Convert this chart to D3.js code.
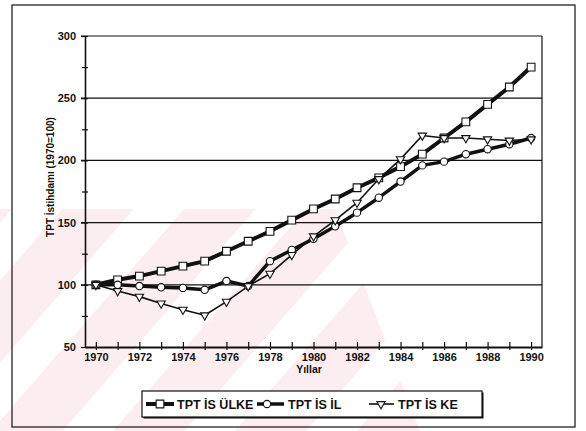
<!DOCTYPE html>
<html>
<head>
<meta charset="utf-8">
<script src="https://cdn.jsdelivr.net/npm/d3@7"></script>
<style>
  html, body { margin: 0; padding: 0; background: #fff; }
  svg { display: block; }
  text { font-family: "Liberation Sans", Arial, sans-serif; font-weight: bold; fill: #111; }
</style>
</head>
<body>
<div id="chart"></div>
<script>
// Employment index per year (1970 = 100)
const years = d3.range(1970, 1991);
const ulke = [100, 104, 107, 111, 115, 119, 127, 135, 143, 152, 161, 169, 178, 186, 195, 205, 218, 231, 245, 259, 275];
const il   = [100, 100, 99, 98, 97.5, 96, 103, 99, 119, 128, 137, 147, 158, 170, 183, 196, 199, 205, 209, 213, 218];
const ke   = [100, 95, 90.5, 85, 80, 75.5, 86.5, 99, 109, 124, 139, 152, 166, 185, 201, 220, 218, 218, 217, 216, 217];
const yTicks = [50, 100, 150, 200, 250, 300];
const xLabelYears = d3.range(1970, 1991, 2);
const seriesNames = ["TPT İS ÜLKE", "TPT İS İL", "TPT İS KE"];

const W = 586, H = 431;
const svg = d3.select("#chart").append("svg").attr("width", W).attr("height", H);

// faint diagonal stripes in the lower left background
const defs = svg.append("defs");
const pat = defs.append("pattern")
  .attr("id", "stripes").attr("patternUnits", "userSpaceOnUse")
  .attr("width", 92).attr("height", 92)
  .attr("patternTransform", "rotate(41)");
pat.append("rect").attr("x", 0).attr("y", 0).attr("width", 54).attr("height", 92).attr("fill", "#fcedf0");
defs.append("clipPath").attr("id", "wmclip")
  .append("polygon").attr("points", "0,209 335,209 420,431 0,431");
svg.append("rect").attr("x", 0).attr("y", 0).attr("width", W).attr("height", H)
  .attr("fill", "url(#stripes)").attr("clip-path", "url(#wmclip)");

// outer frame
svg.append("rect").attr("x", 12).attr("y", 5).attr("width", 563).attr("height", 422)
  .attr("fill", "none").attr("stroke", "#111").attr("stroke-width", 1.2);

const plot = { left: 85, right: 542, top: 36, bottom: 347 };
const x = d3.scaleLinear().domain([1969.5, 1990.5]).range([plot.left, plot.right]);
const y = d3.scaleLinear().domain([50, 300]).range([plot.bottom, plot.top]);

// horizontal gridlines
svg.append("g").selectAll("line").data(yTicks.filter(v => v > 50)).join("line")
  .attr("x1", plot.left - 4).attr("x2", plot.right)
  .attr("y1", d => y(d)).attr("y2", d => y(d))
  .attr("stroke", "#111").attr("stroke-width", 1.2);

// right edge of the plot
svg.append("line").attr("x1", plot.right).attr("x2", plot.right)
  .attr("y1", plot.top).attr("y2", plot.bottom).attr("stroke", "#111").attr("stroke-width", 1.2);

const tickFont = sel => sel.style("font-size", "11px")
  .style("font-family", "'Liberation Sans', Arial, sans-serif").style("font-weight", "bold").attr("fill", "#111");

// y axis
const yAxis = d3.axisLeft(y).tickValues(d3.range(50, 301, 25))
  .tickSize(0).tickFormat(d => d % 50 === 0 ? d : "");
const gy = svg.append("g").attr("transform", `translate(${plot.left},0)`).call(yAxis);
gy.select(".domain").attr("stroke", "#111").attr("stroke-width", 1.6);
gy.selectAll(".tick line").remove();
gy.selectAll(".tick").append("line")
  .attr("x1", d => d % 50 === 0 ? -4 : -3).attr("x2", 3)
  .attr("stroke", "#111").attr("stroke-width", 1.2);
gy.selectAll(".tick text").attr("x", -9).call(tickFont);

// x axis
const xAxis = d3.axisBottom(x).tickValues(years).tickSize(0)
  .tickFormat(d => xLabelYears.includes(d) ? d : "");
const gx = svg.append("g").attr("transform", `translate(0,${plot.bottom})`).call(xAxis);
gx.select(".domain").attr("stroke", "#111").attr("stroke-width", 1.8);
gx.selectAll(".tick line").remove();
gx.selectAll(".tick").append("line").attr("y1", -5).attr("y2", 3)
  .attr("stroke", "#111").attr("stroke-width", 1.2);
gx.selectAll(".tick text").attr("y", 6).call(tickFont);

// axis titles
svg.append("text").attr("x", 309).attr("y", 373).attr("text-anchor", "middle")
  .style("font-size", "10.5px").text("Yıllar");
svg.append("text").attr("transform", "translate(54,177) rotate(-90)").attr("text-anchor", "middle")
  .style("font-size", "10px").text("TPT İstihdamı (1970=100)");

// series
const series = [
  { name: seriesNames[0], values: ulke, width: 4, symbol: d3.symbolSquare, size: 60, rot: 0 },
  { name: seriesNames[1], values: il, width: 3.5, symbol: d3.symbolCircle, size: 42, rot: 0 },
  { name: seriesNames[2], values: ke, width: 1.6, symbol: d3.symbolTriangle, size: 30, rot: 180 }
];
const line = d3.line().x((d, i) => x(years[i])).y(d => y(d));

series.forEach(s => {
  svg.append("path").datum(s.values).attr("d", line)
    .attr("fill", "none").attr("stroke", "#111").attr("stroke-width", s.width)
    .attr("stroke-linejoin", "round");
});
series.forEach(s => {
  const sym = d3.symbol().type(s.symbol).size(s.size);
  svg.append("g").selectAll("path").data(s.values).join("path")
    .attr("transform", (d, i) => `translate(${x(years[i])},${y(d)}) rotate(${s.rot})`)
    .attr("d", sym).attr("fill", "#fff").attr("stroke", "#111").attr("stroke-width", 1.1);
});

// legend
const lg = svg.append("g");
lg.append("rect").attr("x", 143.5).attr("y", 392.5).attr("width", 340).attr("height", 26).attr("fill", "#111");
lg.append("rect").attr("x", 142).attr("y", 391).attr("width", 340).attr("height", 26)
  .attr("fill", "#fff").attr("stroke", "#111").attr("stroke-width", 1.2);
const legendItems = [
  { s: series[0], x1: 146, x2: 174, mx: 160, tx: 177 },
  { s: series[1], x1: 257, x2: 284, mx: 267, tx: 288 },
  { s: series[2], x1: 369, x2: 394, mx: 381, tx: 398 }
];
legendItems.forEach(it => {
  const cy = 404;
  lg.append("line").attr("x1", it.x1).attr("x2", it.x2).attr("y1", cy).attr("y2", cy)
    .attr("stroke", "#111").attr("stroke-width", it.s.width);
  const sym = d3.symbol().type(it.s.symbol).size(it.s.size);
  lg.append("path").attr("transform", `translate(${it.mx},${cy}) rotate(${it.s.rot})`)
    .attr("d", sym).attr("fill", "#fff").attr("stroke", "#111").attr("stroke-width", 1.1);
  lg.append("text").attr("x", it.tx).attr("y", cy + 4.5).style("font-size", "12.5px").text(it.s.name);
});
</script>
</body>
</html>
